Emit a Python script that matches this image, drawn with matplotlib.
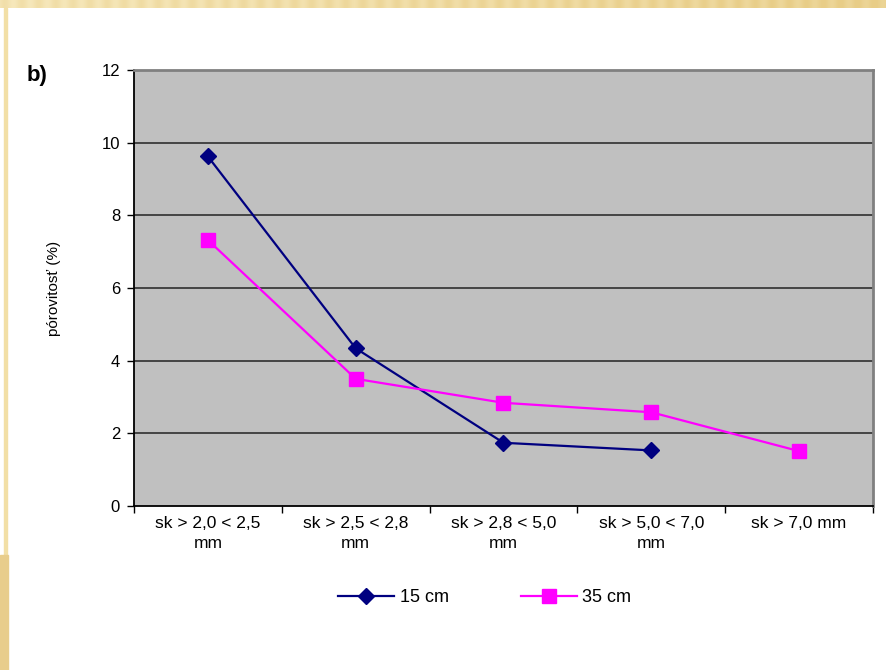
import numpy as np
import matplotlib
matplotlib.use("Agg")
import matplotlib.pyplot as plt
from matplotlib.ticker import FixedLocator

plt.rcParams['font.family'] = ['Liberation Sans', 'DejaVu Sans']

kategorie = ['sk > 2,0 < 2,5\nmm', 'sk > 2,5 < 2,8\nmm', 'sk > 2,8 < 5,0\nmm',
             'sk > 5,0 < 7,0\nmm', 'sk > 7,0 mm']
por_15 = [9.62, 4.34, 1.74, 1.53]
por_35 = [7.32, 3.5, 2.84, 2.58, 1.51]

fig = plt.figure(figsize=(8.87, 6.70), dpi=100)

# slide background decoration (stripes at top, bar at left)
deco = fig.add_axes([0, 1 - 8 / 670, 1, 8 / 670])
xs = np.arange(887)
light = np.array([251, 241, 205]) / 255
dark = np.array([232, 205, 135]) / 255
t = xs / 886
stripe = (np.sin(xs / 887 * 2 * np.pi * 52) + 1) / 2
mix = np.clip(0.25 + 0.55 * t + 0.25 * stripe, 0, 1)
row = light[None, :] * (1 - mix[:, None]) + dark[None, :] * mix[:, None]
deco.imshow(row[None, :, :], aspect='auto', extent=[0, 1, 0, 1])
deco.axis('off')
fig.patches.append(plt.Rectangle((4 / 887, 115 / 670), 3 / 887, 547 / 670,
                                 transform=fig.transFigure, color='#F2DFA6', zorder=0))
fig.patches.append(plt.Rectangle((0, 0), 8 / 887, 115 / 670,
                                 transform=fig.transFigure, color='#E8CD8C', zorder=0))

ax = fig.add_axes([134 / 887, 164 / 670, 739 / 887, 436 / 670])
ax.set_facecolor('#C0C0C0')

x15 = np.arange(len(por_15))
x35 = np.arange(len(por_35))
ax.plot(x15, por_15, '-D', color='#000080', lw=1.6, ms=8, label='15 cm', zorder=3)
ax.plot(x35, por_35, '-s', color='#FF00FF', lw=1.6, ms=10.5, label='35 cm', zorder=3)

ax.set_xlim(-0.5, len(kategorie) - 0.5)
ax.set_ylim(0, 12)
ax.set_yticks(range(0, 13, 2))
ax.set_xticks(range(len(kategorie)))
ax.set_xticklabels(kategorie, fontsize=12.5)
for lab in ax.get_xticklabels():
    lab.set_linespacing(1.45)
ax.xaxis.set_minor_locator(FixedLocator(np.arange(-0.5, len(kategorie), 1)))
ax.tick_params(axis='x', which='major', length=0, pad=7)
ax.tick_params(axis='x', which='minor', length=5, width=1, color='black', direction='out')
ax.tick_params(axis='y', length=5, width=1, color='black', labelsize=12, pad=5)

for y in range(2, 12, 2):
    ax.axhline(y, color='#3A3A3A', lw=1.3, zorder=1)

ax.spines['left'].set_color('black')
ax.spines['bottom'].set_color('black')
ax.spines['left'].set_linewidth(1.3)
ax.spines['bottom'].set_linewidth(1.3)
ax.spines['top'].set_color('#808080')
ax.spines['right'].set_color('#808080')
ax.spines['top'].set_linewidth(2)
ax.spines['right'].set_linewidth(2)

ax.set_ylabel('pórovitosť (%)', fontsize=11, labelpad=29)

fig.text(27 / 887, 1 - 76 / 670, 'b)', fontsize=16, fontweight='bold', va='center', ha='left')

fig.legend(loc='center', bbox_to_anchor=(485 / 887, 1 - 598 / 670), ncol=2,
           frameon=False, fontsize=13, handlelength=3.1, columnspacing=4.0,
           handletextpad=0.3)

fig.savefig('out.png', dpi=100)
